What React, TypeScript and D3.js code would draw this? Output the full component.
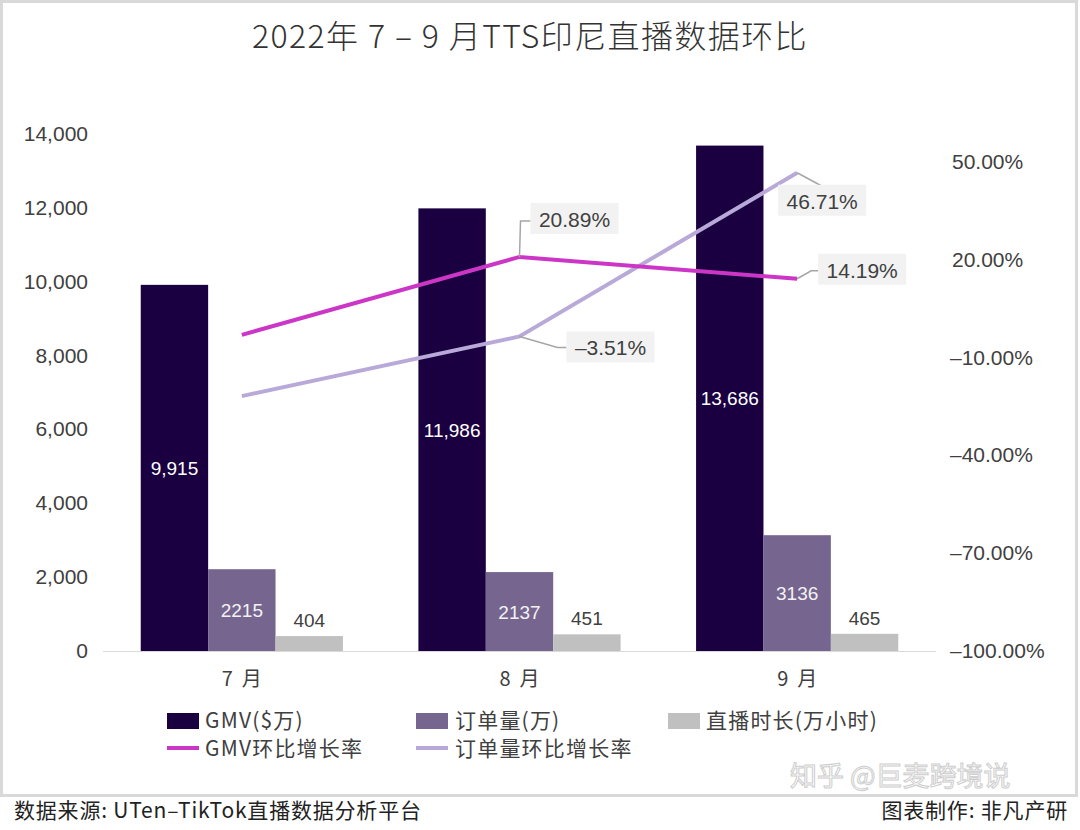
import React from 'react';
import * as d3 from 'd3';

const months = ['7 月', '8 月', '9 月'];
const gmv = [9915, 11986, 13686];
const orders = [2215, 2137, 3136];
const liveHours = [404, 451, 465];
const gmvRate = [-3.0, 20.89, 14.19];
const orderRate = [-21.8, -3.51, 46.71];
const gmvRateLabels = [null, '20.89%', '14.19%'];
const orderRateLabels = [null, '–3.51%', '46.71%'];
const leftTicks = [0, 2000, 4000, 6000, 8000, 10000, 12000, 14000];
const rightTicks = [-100, -70, -40, -10, 20, 50];

const W = 1080;
const H = 830;
const FONT = '"Liberation Sans", "Noto Sans CJK SC", Arial, sans-serif';
const CJK = '"Noto Sans CJK SC", "Liberation Sans", sans-serif';

const C_GMV = '#1a0040';
const C_ORD = '#76668f';
const C_LIVE = '#c0c0c0';
const C_GMVR = '#cc36c6';
const C_ORDR = '#b8a9d8';

export default function App() {
  const plotL = 103, plotR = 936, plotT = 134, plotB = 651;
  const x = d3.scaleBand<string>().domain(months).range([plotL, plotR]);
  const sub = d3.scaleBand<string>().domain(['g', 'o', 'l']).range([0, x.bandwidth()]).paddingInner(0).paddingOuter(0.56);
  const yL = d3.scaleLinear().domain([0, 14000]).range([plotB, plotT]);
  const yR = d3.scaleLinear().domain([-100, 58.6]).range([plotB, plotT]);
  const cx = (i: number) => (x(months[i]) as number) + x.bandwidth() / 2;
  const line = d3.line<number>().x((_, i) => cx(i)).y((d) => yR(d));
  const fmt = d3.format(',');
  const bw = sub.bandwidth();

  const series = [
    { key: 'g', vals: gmv, color: C_GMV },
    { key: 'o', vals: orders, color: C_ORD },
    { key: 'l', vals: liveHours, color: C_LIVE },
  ];

  const annos: { label: string; bx: number; by: number; leader: [number, number][] }[] = [];
  gmvRateLabels.forEach((lab, i) => {
    if (!lab) return;
    const px = cx(i), py = yR(gmvRate[i]);
    if (i === 1) annos.push({ label: lab, bx: px + 55, by: py - 38, leader: [[px, py], [px + 1, py - 36], [px + 11, py - 36]] });
    if (i === 2) annos.push({ label: lab, bx: px + 65, by: py - 9, leader: [[px, py], [px + 14, py - 8], [px + 21, py - 8]] });
  });
  orderRateLabels.forEach((lab, i) => {
    if (!lab) return;
    const px = cx(i), py = yR(orderRate[i]);
    if (i === 1) annos.push({ label: lab, bx: px + 91, by: py + 11, leader: [[px, py], [px + 38, py + 11], [px + 47, py + 11]] });
    if (i === 2) annos.push({ label: lab, bx: px + 25, by: py + 28, leader: [[px, py], [px + 24, py + 13]] });
  });

  return (
    <svg width={W} height={H} style={{ position: 'absolute', left: 0, top: 0, background: '#fff' }} fontFamily={FONT}>
      <rect x={0} y={0} width={W} height={H} fill="#fff" />
      <rect x={1.5} y={1.5} width={1075} height={794} fill="#fff" stroke="#d9d9d9" strokeWidth={3} />
      <text x={530} y={48} textAnchor="middle" fontSize={32} fontWeight={300} letterSpacing={1.4} fill="#333" fontFamily={CJK}>
        2022年 7 – 9 月TTS印尼直播数据环比
      </text>

      {leftTicks.map((t) => (
        <text key={t} x={88} y={yL(t) + 7} textAnchor="end" fontSize={21} fill="#404040">
          {fmt(t)}
        </text>
      ))}
      {rightTicks.map((t) => (
        <text key={t} x={t < 0 ? 950 : 952} y={yR(t) + 7} textAnchor="start" fontSize={21} fill="#404040">
          {(t < 0 ? '–' : '') + Math.abs(t).toFixed(2) + '%'}
        </text>
      ))}

      {series.map((s) =>
        s.vals.map((v, i) => (
          <rect
            key={s.key + i}
            x={(x(months[i]) as number) + (sub(s.key) as number)}
            y={yL(v)}
            width={bw}
            height={plotB - yL(v)}
            fill={s.color}
          />
        ))
      )}
      <line x1={plotL} x2={plotR} y1={plotB + 0.5} y2={plotB + 0.5} stroke="#d9d9d9" strokeWidth={1.2} />

      {gmv.map((v, i) => (
        <text key={'gl' + i} x={(x(months[i]) as number) + (sub('g') as number) + bw / 2} y={(yL(v) + plotB) / 2 + 7} textAnchor="middle" fontSize={19} fill="#fff">
          {fmt(v)}
        </text>
      ))}
      {orders.map((v, i) => (
        <text key={'ol' + i} x={(x(months[i]) as number) + (sub('o') as number) + bw / 2} y={(yL(v) + plotB) / 2 + 7} textAnchor="middle" fontSize={19} fill="#f2f2f2">
          {v}
        </text>
      ))}
      {liveHours.map((v, i) => (
        <text key={'ll' + i} x={(x(months[i]) as number) + (sub('l') as number) + bw / 2} y={yL(v) - 9} textAnchor="middle" fontSize={19} fill="#404040">
          {v}
        </text>
      ))}

      {months.map((m, i) => (
        <text key={m} x={cx(i)} y={686} textAnchor="middle" fontSize={20} fill="#404040" fontFamily={CJK} style={{ whiteSpace: 'pre' }}>
          {m.replace(' ', '  ')}
        </text>
      ))}

      <path d={line(orderRate) || ''} fill="none" stroke={C_ORDR} strokeWidth={4} />
      <path d={line(gmvRate) || ''} fill="none" stroke={C_GMVR} strokeWidth={4} />

      {annos.map((a, k) => (
        <g key={'a' + k}>
          <polyline points={a.leader.map((p) => p.join(',')).join(' ')} fill="none" stroke="#a6a6a6" strokeWidth={1.5} />
          <rect x={a.bx - 44} y={a.by - 16} width={88} height={31} fill="#f2f2f2" />
          <text x={a.bx} y={a.by + 8} textAnchor="middle" fontSize={21} fill="#404040">
            {a.label}
          </text>
        </g>
      ))}

      <g fontSize={21} fill="#404040" fontFamily={CJK} letterSpacing={1.2}>
        <rect x={167} y={713} width={32} height={16} fill={C_GMV} />
        <text x={205} y={728}>GMV($万)</text>
        <rect x={416} y={713} width={32} height={16} fill={C_ORD} />
        <text x={455} y={728}>订单量(万)</text>
        <rect x={668} y={713} width={32} height={16} fill={C_LIVE} />
        <text x={706} y={728}>直播时长(万小时)</text>
        <line x1={167} x2={199} y1={748} y2={748} stroke={C_GMVR} strokeWidth={4} />
        <text x={205} y={756}>GMV环比增长率</text>
        <line x1={416} x2={448} y1={748} y2={748} stroke={C_ORDR} strokeWidth={4} />
        <text x={455} y={756}>订单量环比增长率</text>
      </g>

      <text x={790} y={786} fontSize={27} fill="#ffffff" stroke="#c8c8c8" strokeWidth={1} fontFamily={CJK} opacity={0.9}>
        知乎 @巨麦跨境说
      </text>

      <text x={14} y={818} fontSize={21} letterSpacing={0.8} fill="#222" fontFamily={CJK}>
        数据来源: UTen–TikTok直播数据分析平台
      </text>
      <text x={1068} y={818} fontSize={21} letterSpacing={0.8} fill="#222" textAnchor="end" fontFamily={CJK}>
        图表制作: 非凡产研
      </text>
    </svg>
  );
}
